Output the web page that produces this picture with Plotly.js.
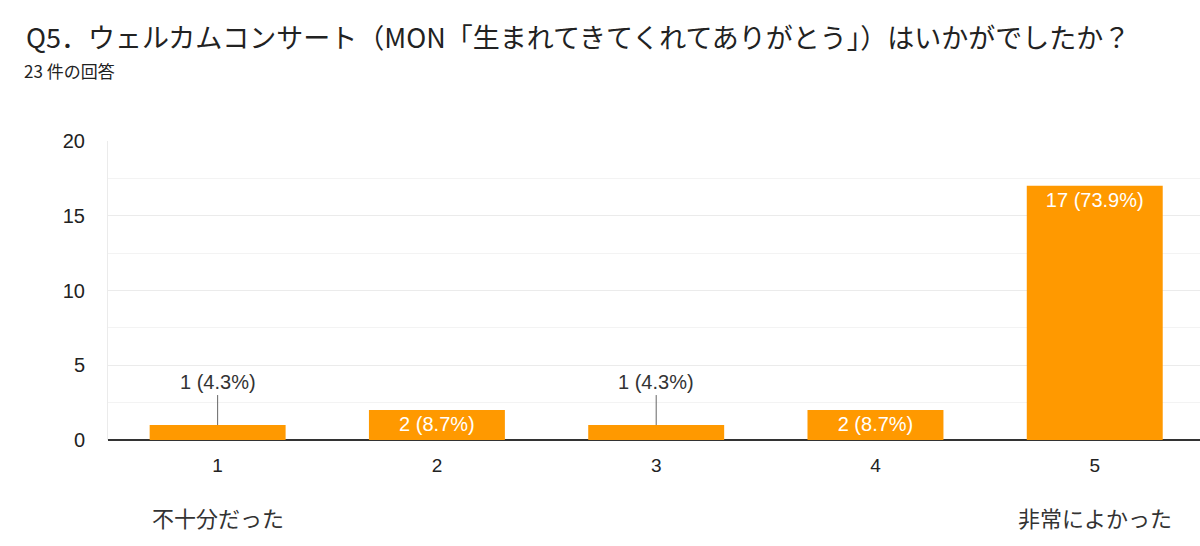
<!DOCTYPE html>
<html>
<head>
<meta charset="utf-8">
<script src="https://cdn.plot.ly/plotly-3.0.1.min.js"></script>
<style>html,body{margin:0;padding:0;background:#fff;}#chart{width:1200px;height:546px;}</style>
</head>
<body>
<div id="chart"></div>
<script>
const categories = [1, 2, 3, 4, 5];
const counts = [1, 2, 1, 2, 17];
const labels = ["1 (4.3%)", "2 (8.7%)", "1 (4.3%)", "2 (8.7%)", "17 (73.9%)"];
const lowLabel = "不十分だった";
const highLabel = "非常によかった";
const titleText = "Q5．ウェルカムコンサート（MON「生まれてきてくれてありがとう」）はいかがでしたか？";
const subtitleText = "23 件の回答";

const FONT = "Liberation Sans, Arial, 'Noto Sans CJK JP', sans-serif";
const JFONT = "'Noto Sans CJK JP', 'Liberation Sans', sans-serif";

const insideText = labels.map((t, i) => counts[i] >= 2 ? t : "");

const trace = {
  type: "bar",
  x: categories,
  y: counts,
  marker: {color: "#ff9900"},
  text: insideText,
  textposition: "inside",
  insidetextanchor: "end",
  textangle: 0,
  textfont: {color: "#ffffff", size: 20, family: FONT},
  hoverinfo: "none",
  cliponaxis: false
};

const annotations = [];
categories.forEach((c, i) => {
  if (counts[i] < 2) {
    annotations.push({
      x: c, y: counts[i], xref: "x", yref: "y",
      text: labels[i], showarrow: true, arrowhead: 0, arrowwidth: 1,
      arrowcolor: "#666", ax: 0, ay: -30, standoff: 0,
      font: {size: 20, color: "#333", family: FONT},
      yanchor: "bottom"
    });
  }
});
annotations.push({
  x: categories[0], y: -0.256, xref: "x", yref: "paper",
  text: lowLabel, showarrow: false, xanchor: "center", yanchor: "middle",
  font: {size: 22, color: "#333", family: JFONT}
});
annotations.push({
  x: categories[categories.length - 1], y: -0.256, xref: "x", yref: "paper",
  text: highLabel, showarrow: false, xanchor: "center", yanchor: "middle",
  font: {size: 22, color: "#333", family: JFONT}
});
annotations.push({
  x: (22 - 108) / 1092, y: (440 - 71) / 299, xref: "paper", yref: "paper",
  text: subtitleText, showarrow: false, xanchor: "left", yanchor: "middle",
  font: {size: 17, color: "#222", family: JFONT}
});

const layout = {
  width: 1200, height: 546,
  paper_bgcolor: "#fff", plot_bgcolor: "#fff",
  margin: {l: 108, r: 0, t: 141, b: 106},
  font: {family: FONT, color: "#333"},
  showlegend: false,
  bargap: 0.38,
  xaxis: {
    range: [0.5, 5.48],
    tickvals: categories,
    ticktext: categories.map(String),
    showgrid: false,
    showline: false,
    zeroline: false,
    ticks: "",
    tickfont: {size: 19, color: "#222"},
    ticklabelstandoff: 12,
    fixedrange: true
  },
  yaxis: {
    range: [0, 20],
    tick0: 0, dtick: 5,
    showgrid: true, gridcolor: "#ebebeb", gridwidth: 1,
    minor: {dtick: 2.5, showgrid: true, gridcolor: "#f3f3f3", gridwidth: 1},
    zeroline: true, zerolinecolor: "#333", zerolinewidth: 2,
    showline: true, linecolor: "#ebebeb", linewidth: 1,
    ticks: "",
    tickfont: {size: 20, color: "#222"},
    ticklabelstandoff: 18,
    fixedrange: true
  },
  title: {
    text: titleText,
    x: 0, xref: "container", xanchor: "left",
    y: 1, yref: "container", yanchor: "top",
    pad: {t: 29, l: 26},
    font: {size: 27, color: "#222", family: JFONT}
  },
  annotations: annotations
};

Plotly.newPlot("chart", [trace], layout, {displayModeBar: false, staticPlot: true});
</script>
</body>
</html>
